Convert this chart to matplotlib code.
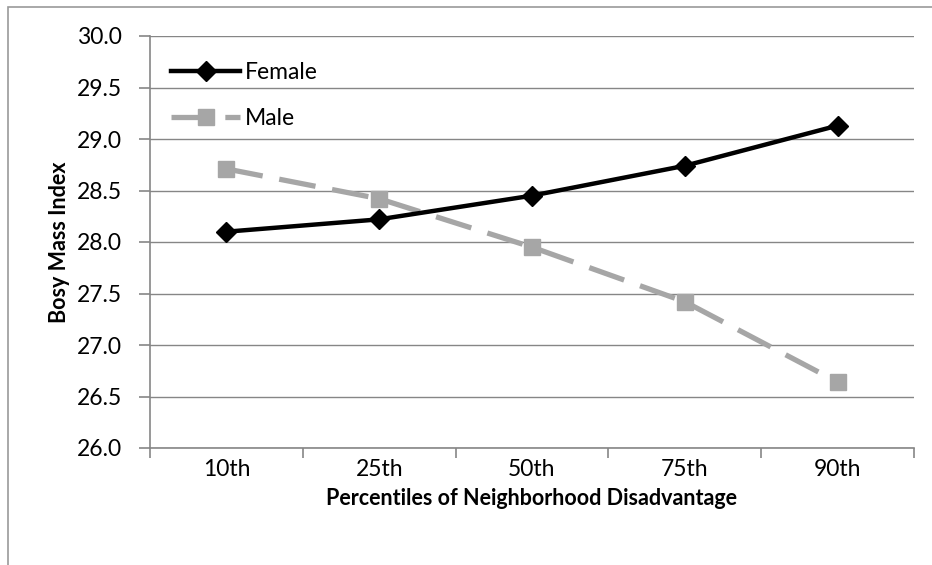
import matplotlib.pyplot as plt
from matplotlib.patches import Rectangle

plt.rcParams["font.family"] = ["Lato", "DejaVu Sans"]

percentiles = ["10th", "25th", "50th", "75th", "90th"]
female_bmi = [28.10, 28.22, 28.45, 28.74, 29.13]
male_bmi = [28.71, 28.42, 27.95, 27.42, 26.64]
y_ticks = [26.0, 26.5, 27.0, 27.5, 28.0, 28.5, 29.0, 29.5, 30.0]

grid_col = "#868686"
fs = 16.5
label_fs = 15.5

fig = plt.figure(figsize=(9.32, 5.65), dpi=100)
ax = fig.add_axes([150 / 932, 1 - 448 / 565, (914 - 150) / 932, (448 - 36) / 565])

x = list(range(len(percentiles)))
ax.plot(x, female_bmi, color="black", lw=3.2, marker="D", ms=10,
        label="Female", zorder=4)
ax.plot(x, male_bmi, color="#A6A6A6", lw=3.8, dashes=(7, 3.2), marker="s",
        ms=12, label="Male", zorder=3)

ax.set_xlim(-0.5, len(percentiles) - 0.5)
ax.set_ylim(26.0, 30.0)
ax.set_yticks(y_ticks)
ax.set_yticklabels([f"{v:.1f}" for v in y_ticks])
ax.yaxis.grid(True, color=grid_col, lw=1.0)
ax.set_axisbelow(True)

ax.set_xticks(x)
ax.set_xticklabels(percentiles)
ax.set_xticks([i - 0.5 for i in range(len(percentiles) + 1)], minor=True)
ax.tick_params(axis="x", which="major", length=0, pad=8, labelsize=fs)
ax.tick_params(axis="x", which="minor", length=7, color=grid_col, width=1.2)
ax.tick_params(axis="y", length=8, color=grid_col, width=1.2, pad=12, labelsize=fs)

for side in ["top", "right"]:
    ax.spines[side].set_visible(False)
for side in ["left", "bottom"]:
    ax.spines[side].set_color(grid_col)
    ax.spines[side].set_linewidth(1.2)

ax.set_xlabel("Percentiles of Neighborhood Disadvantage", fontsize=label_fs,
              fontweight="bold", labelpad=6)
ax.set_ylabel("Bosy Mass Index", fontsize=label_fs, fontweight="bold", labelpad=5)

ax.legend(loc="upper left", frameon=False, fontsize=fs, handlelength=3.0,
          handletextpad=0.2, labelspacing=1.1, borderaxespad=0.0,
          bbox_to_anchor=(0.016, 0.96))

# outer chart frame, cut off at right and bottom
fig.patches.append(Rectangle((8 / 932, -0.1), 1.2, 1 - 7 / 565 + 0.1,
                             transform=fig.transFigure, fill=False,
                             edgecolor="#9a9a9a", lw=1.2))

fig.savefig("out.png", dpi=100)
